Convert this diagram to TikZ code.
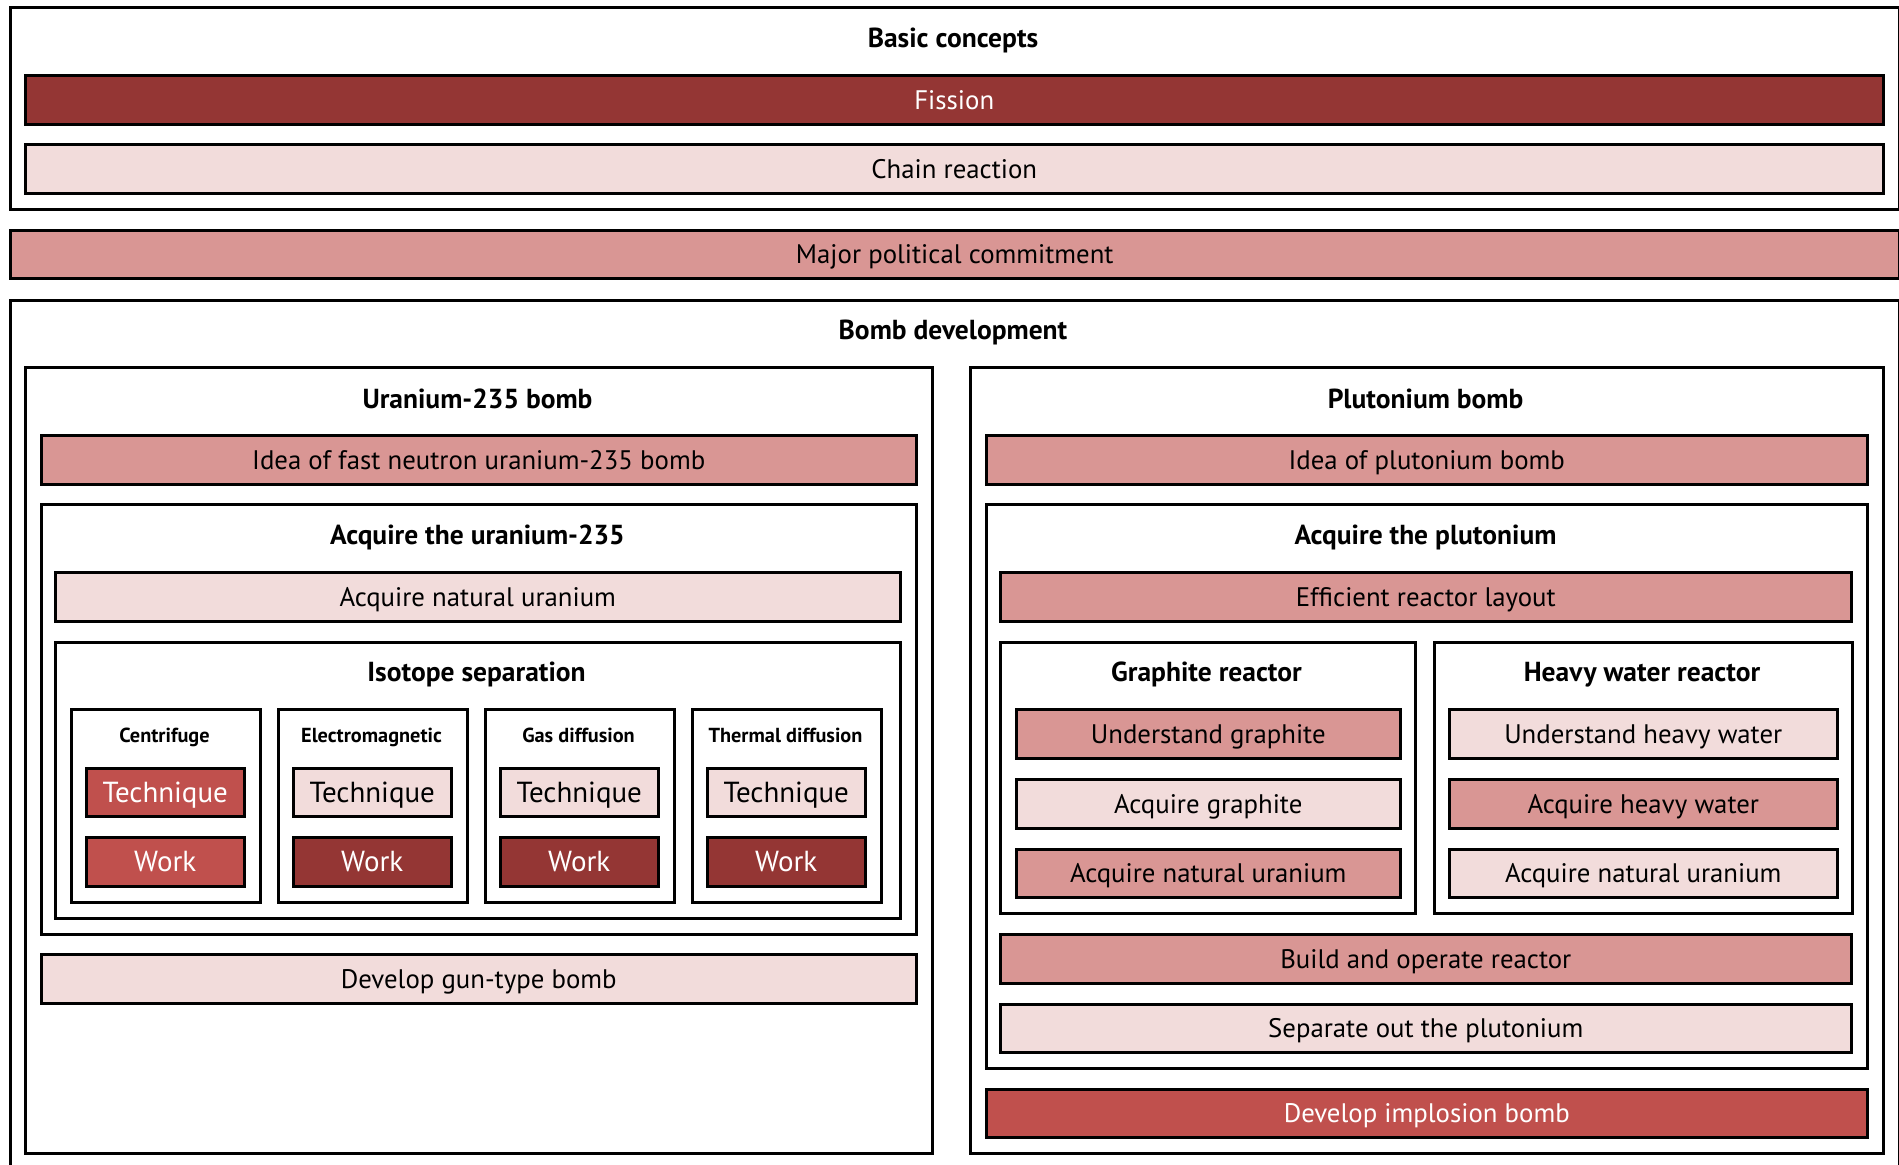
\documentclass[tikz,border=0pt]{standalone}
\usepackage{fontspec}
\setmainfont{PT Sans}
\definecolor{cDark}{HTML}{943634}
\definecolor{cMed}{HTML}{C0504D}
\definecolor{cPink}{HTML}{D99694}
\definecolor{cLight}{HTML}{F2DCDB}
\newcommand\rbox[7]{\pgfmathsetmacro\rbw{#4-#2}\pgfmathsetmacro\rbh{#5-#3}%
  \node[#6, minimum width=\rbw pt, minimum height=\rbh pt, anchor=north west] (#1) at (#2,#3) {#7};}
\tikzset{
  frame/.style={draw=black, line width=2.5pt, fill=white, inner sep=0pt},
  bar/.style={draw=black, line width=2.5pt, inner sep=0pt, font=\fontsize{26.8}{32}\selectfont, text height=18.5pt, text depth=0pt},
  dark/.style={bar, fill=cDark, text=white},
  med/.style={bar, fill=cMed, text=white},
  pink/.style={bar, fill=cPink, text=black},
  light/.style={bar, fill=cLight, text=black},
  big/.style={font=\fontsize{29}{34}\selectfont, text height=20pt},
  ttl/.style={inner sep=0pt, font=\fontsize{27.5}{32}\selectfont\bfseries, text height=19pt, text depth=0pt},
  sttl/.style={inner sep=0pt, font=\fontsize{20.3}{24}\selectfont\bfseries, text height=14.5pt, text depth=0pt},
}
\begin{document}
\begin{tikzpicture}[x=1pt,y=-1pt]
\useasboundingbox (0,0) rectangle (1899,1165);
\clip (0,0) rectangle (1899,1165);
% Basic concepts
\rbox{basic}{9}{6}{1898}{208}{frame}{}
\node[ttl] (tbasic) at (953,38) {Basic concepts};
\rbox{fission}{24}{74}{1882}{123}{dark}{Fission}
\rbox{chain}{24}{143}{1882}{192}{light}{Chain reaction}
% Major political commitment
\rbox{major}{9}{229}{1898}{277}{pink}{Major political commitment}
% Bomb development
\rbox{bomb}{9}{299}{1898}{1200}{frame}{}
\node[ttl] (tbomb) at (953,330) {Bomb development};
% Uranium side
\rbox{ubomb}{24}{366}{931}{1152}{frame}{}
\node[ttl] (tubomb) at (477.5,398.5) {Uranium-235 bomb};
\rbox{uidea}{40}{434}{915}{483}{pink}{Idea of fast neutron uranium-235 bomb}
\rbox{uacq}{40}{503}{915}{933}{frame}{}
\node[ttl] (tuacq) at (477.5,535) {Acquire the uranium-235};
\rbox{unat}{54}{571}{899}{620}{light}{Acquire natural uranium}
\rbox{iso}{54}{641}{899}{917}{frame}{}
\node[ttl] (tiso) at (476.5,672) {Isotope separation};
% four methods
\rbox{cen}{70}{708}{259}{901}{frame}{}
\node[sttl] (tcen) at (164.5,735) {Centrifuge};
\rbox{cenT}{85}{767}{243}{815}{med,big}{Technique}
\rbox{cenW}{85}{836}{243}{885}{med,big}{Work}
\rbox{ele}{277}{708}{466}{901}{frame}{}
\node[sttl] (tele) at (371.5,735) {Electromagnetic};
\rbox{eleT}{292}{767}{450}{815}{light,big}{Technique}
\rbox{eleW}{292}{836}{450}{885}{dark,big}{Work}
\rbox{gas}{484}{708}{673}{901}{frame}{}
\node[sttl] (tgas) at (578.5,735) {Gas diffusion};
\rbox{gasT}{499}{767}{657}{815}{light,big}{Technique}
\rbox{gasW}{499}{836}{657}{885}{dark,big}{Work}
\rbox{the}{691}{708}{880}{901}{frame}{}
\node[sttl] (tthe) at (785.5,735) {Thermal diffusion};
\rbox{theT}{706}{767}{864}{815}{light,big}{Technique}
\rbox{theW}{706}{836}{864}{885}{dark,big}{Work}
\rbox{gun}{40}{953}{915}{1002}{light}{Develop gun-type bomb}
% Plutonium side
\rbox{pbomb}{969}{366}{1882}{1152}{frame}{}
\node[ttl] (tpbomb) at (1425.5,398.5) {Plutonium bomb};
\rbox{pidea}{985}{434}{1866}{483}{pink}{Idea of plutonium bomb}
\rbox{pacq}{985}{503}{1866}{1067}{frame}{}
\node[ttl] (tpacq) at (1425.5,535) {Acquire the plutonium};
\rbox{eff}{999}{571}{1850}{620}{pink}{Efficient reactor layout}
\rbox{gra}{999}{641}{1414}{912}{frame}{}
\node[ttl] (tgra) at (1206.5,672) {Graphite reactor};
\rbox{gra1}{1015}{708}{1399}{757}{pink}{Understand graphite}
\rbox{gra2}{1015}{778}{1399}{827}{light}{Acquire graphite}
\rbox{gra3}{1015}{848}{1399}{896}{pink}{Acquire natural uranium}
\rbox{hw}{1433}{641}{1851}{912}{frame}{}
\node[ttl] (thw) at (1642,672) {Heavy water reactor};
\rbox{hw1}{1448}{708}{1836}{757}{light}{Understand heavy water}
\rbox{hw2}{1448}{778}{1836}{827}{pink}{Acquire heavy water}
\rbox{hw3}{1448}{848}{1836}{896}{light}{Acquire natural uranium}
\rbox{build}{999}{933}{1850}{982}{pink}{Build and operate reactor}
\rbox{sep}{999}{1003}{1850}{1051}{light}{Separate out the plutonium}
\rbox{impl}{985}{1088}{1866}{1136}{med}{Develop implosion bomb}
\end{tikzpicture}
\end{document}
